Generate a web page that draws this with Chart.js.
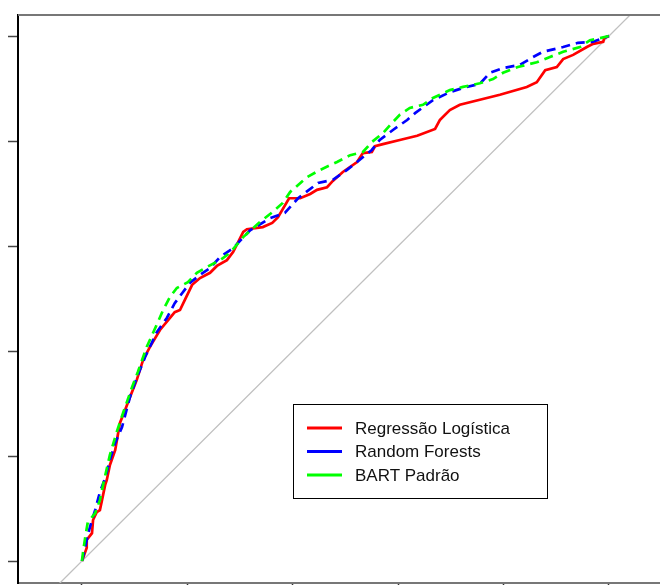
<!DOCTYPE html>
<html>
<head>
<meta charset="utf-8">
<script src="https://cdn.jsdelivr.net/npm/chart.js@4.4.1/dist/chart.umd.min.js"></script>
<style>
  html, body { margin: 0; padding: 0; background: #fff; overflow: hidden; }
</style>
</head>
<body>
<canvas id="roc" width="660" height="585"></canvas>
<script>
// curve values (false positive rate / true positive rate)
const regX = [0, 0.009, 0.009, 0.019, 0.021, 0.028, 0.034, 0.038, 0.044, 0.047, 0.053, 0.063, 0.072, 0.082, 0.091, 0.104, 0.116, 0.129, 0.148, 0.167, 0.176, 0.186, 0.195, 0.209, 0.224, 0.243, 0.256, 0.275, 0.287, 0.306, 0.313, 0.343, 0.361, 0.372, 0.393, 0.414, 0.433, 0.446, 0.465, 0.476, 0.495, 0.522, 0.533, 0.550, 0.556, 0.571, 0.603, 0.636, 0.670, 0.679, 0.698, 0.717, 0.793, 0.844, 0.863, 0.879, 0.901, 0.913, 0.932, 0.958, 0.970, 0.989, 0.991, 1];
const regY = [0, 0.025, 0.040, 0.053, 0.078, 0.093, 0.097, 0.116, 0.145, 0.154, 0.183, 0.211, 0.263, 0.288, 0.312, 0.345, 0.383, 0.408, 0.440, 0.463, 0.474, 0.478, 0.497, 0.526, 0.539, 0.549, 0.562, 0.573, 0.589, 0.627, 0.632, 0.636, 0.644, 0.655, 0.691, 0.691, 0.699, 0.707, 0.712, 0.724, 0.741, 0.760, 0.777, 0.779, 0.790, 0.794, 0.802, 0.810, 0.823, 0.840, 0.859, 0.869, 0.888, 0.903, 0.912, 0.935, 0.941, 0.956, 0.964, 0.979, 0.985, 0.989, 0.996, 1];

const rfX = [0, 0.006, 0.011, 0.019, 0.025, 0.034, 0.044, 0.053, 0.063, 0.076, 0.091, 0.104, 0.120, 0.142, 0.161, 0.176, 0.190, 0.205, 0.224, 0.243, 0.262, 0.287, 0.319, 0.357, 0.385, 0.410, 0.448, 0.476, 0.503, 0.522, 0.550, 0.565, 0.590, 0.617, 0.632, 0.666, 0.698, 0.723, 0.755, 0.774, 0.799, 0.831, 0.856, 0.875, 0.913, 0.941, 0.970, 0.989, 1];
const rfY = [0, 0.025, 0.050, 0.078, 0.097, 0.131, 0.158, 0.192, 0.225, 0.255, 0.312, 0.349, 0.389, 0.436, 0.463, 0.491, 0.510, 0.530, 0.545, 0.558, 0.579, 0.596, 0.630, 0.653, 0.663, 0.691, 0.720, 0.726, 0.745, 0.760, 0.783, 0.802, 0.821, 0.840, 0.853, 0.878, 0.893, 0.901, 0.909, 0.930, 0.939, 0.945, 0.960, 0.970, 0.979, 0.987, 0.989, 0.996, 1];

const bartX = [0, 0.002, 0.006, 0.011, 0.025, 0.034, 0.040, 0.053, 0.066, 0.078, 0.095, 0.106, 0.123, 0.144, 0.154, 0.167, 0.180, 0.201, 0.218, 0.237, 0.262, 0.281, 0.306, 0.338, 0.362, 0.381, 0.395, 0.427, 0.452, 0.484, 0.509, 0.533, 0.550, 0.571, 0.588, 0.603, 0.622, 0.647, 0.666, 0.698, 0.723, 0.755, 0.780, 0.799, 0.827, 0.863, 0.888, 0.913, 0.945, 0.964, 0.983, 1];
const bartY = [0, 0.017, 0.044, 0.074, 0.091, 0.116, 0.145, 0.202, 0.246, 0.282, 0.331, 0.360, 0.408, 0.455, 0.478, 0.503, 0.520, 0.531, 0.549, 0.560, 0.573, 0.587, 0.617, 0.646, 0.665, 0.682, 0.703, 0.731, 0.745, 0.760, 0.773, 0.779, 0.798, 0.815, 0.834, 0.850, 0.863, 0.869, 0.882, 0.897, 0.903, 0.910, 0.918, 0.930, 0.941, 0.950, 0.960, 0.970, 0.979, 0.992, 0.996, 1];

// reference line y = x
const diagX = [-0.2, 1.2];
const diagY = [-0.2, 1.2];

const seriesNames = ["Regressão Logística", "Random Forests", "BART Padrão"];
const xTicks = [0, 0.2, 0.4, 0.6, 0.8, 1.0];
const yTicks = [0, 0.2, 0.4, 0.6, 0.8, 1.0];

const toPoints = (xs, ys) => xs.map((x, i) => ({ x: x, y: ys[i] }));

// R style boxed legend
const boxLegend = {
  id: "boxLegend",
  afterDraw(chart) {
    const ctx = chart.ctx;
    const left = 293, top = 404, w = 254, h = 94;
    ctx.save();
    ctx.fillStyle = "#fff";
    ctx.fillRect(left, top, w, h);
    ctx.strokeStyle = "#000";
    ctx.lineWidth = 1;
    ctx.strokeRect(left + 0.5, top + 0.5, w, h);
    ctx.font = "17px 'Liberation Sans', Arial, sans-serif";
    ctx.textBaseline = "middle";
    chart.data.datasets.slice(0, 3).forEach((ds, i) => {
      const y = top + 24 + i * 23.5;
      ctx.strokeStyle = ds.borderColor;
      ctx.lineWidth = 3;
      ctx.beginPath();
      ctx.moveTo(left + 14, y);
      ctx.lineTo(left + 49, y);
      ctx.stroke();
      ctx.fillStyle = "#111";
      ctx.fillText(ds.label, left + 62, y + 1);
    });
    // top edge of the plot box
    const a = chart.chartArea;
    ctx.strokeStyle = "#777";
    ctx.lineWidth = 2;
    ctx.beginPath();
    ctx.moveTo(a.left, a.top);
    ctx.lineTo(a.right, a.top);
    ctx.stroke();
    ctx.restore();
  },
};

const ctx = document.getElementById("roc").getContext("2d");

new Chart(ctx, {
  type: "line",
  data: {
    datasets: [
      {
        label: seriesNames[0],
        data: toPoints(regX, regY),
        borderColor: "#ff0000",
        borderWidth: 2.7,
        order: 3,
      },
      {
        label: seriesNames[1],
        data: toPoints(rfX, rfY),
        borderColor: "#0000ff",
        borderWidth: 2.7,
        borderDash: [9, 6],
        order: 2,
      },
      {
        label: seriesNames[2],
        data: toPoints(bartX, bartY),
        borderColor: "#00ff00",
        borderWidth: 2.7,
        borderDash: [9, 6],
        order: 1,
      },
      {
        label: "diagonal",
        data: toPoints(diagX, diagY),
        borderColor: "#c0c0c0",
        borderWidth: 1.3,
        order: 4,
      },
    ],
  },
  options: {
    responsive: false,
    animation: false,
    layout: { padding: { top: 15, left: 0, right: 0, bottom: 0 } },
    elements: {
      point: { radius: 0 },
      line: { tension: 0, fill: false },
    },
    plugins: {
      legend: { display: false },
      tooltip: { enabled: false },
    },
    scales: {
      x: {
        type: "linear",
        min: -0.1214,
        max: 1.0968,
        afterBuildTicks: (scale) => {
          scale.ticks = xTicks.map((v) => ({ value: v }));
        },
        afterFit: (scale) => {
          scale.height = 2;
        },
        ticks: { display: false },
        grid: {
          drawOnChartArea: false,
          drawTicks: true,
          tickLength: 10,
          tickColor: "#333",
          tickWidth: 1.5,
        },
        border: { display: true, color: "#777", width: 2 },
      },
      y: {
        type: "linear",
        min: -0.0419,
        max: 1.04,
        afterBuildTicks: (scale) => {
          scale.ticks = yTicks.map((v) => ({ value: v }));
        },
        afterFit: (scale) => {
          scale.width = 18;
        },
        ticks: { display: false },
        grid: {
          drawOnChartArea: false,
          drawTicks: true,
          tickLength: 10,
          tickColor: "#444",
          tickWidth: 1.5,
        },
        border: { display: true, color: "#000", width: 2 },
      },
    },
  },
  plugins: [boxLegend],
});
</script>
</body>
</html>
